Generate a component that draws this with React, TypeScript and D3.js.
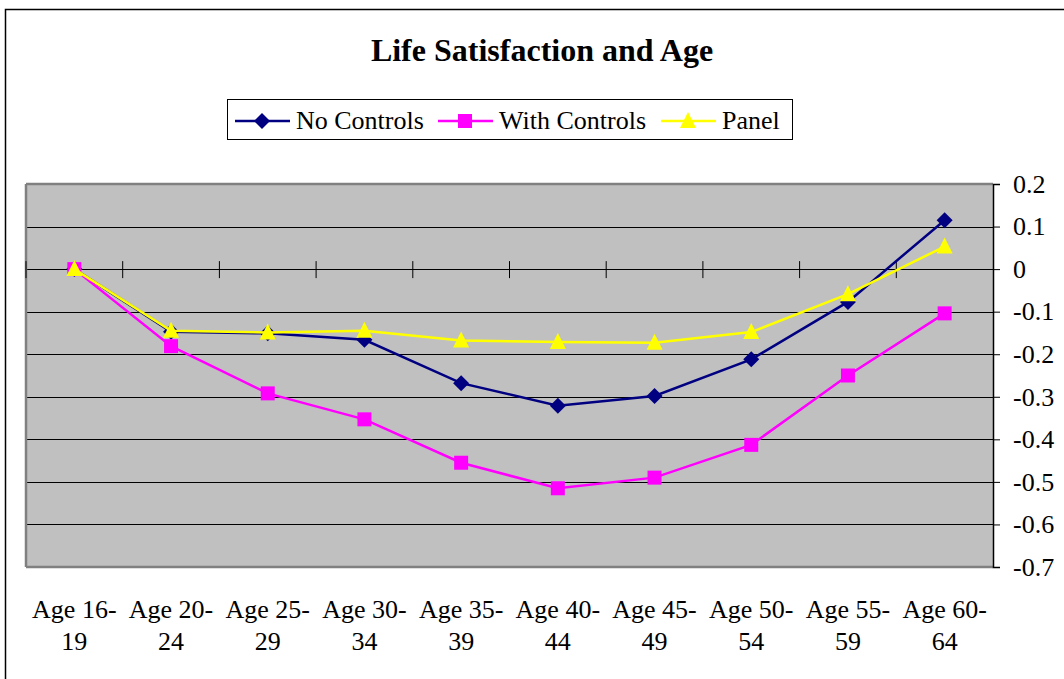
import React, { useEffect, useRef } from "react";
import * as d3 from "d3";

const categories = ["Age 16-19", "Age 20-24", "Age 25-29", "Age 30-34", "Age 35-39", "Age 40-44", "Age 45-49", "Age 50-54", "Age 55-59", "Age 60-64"];
const labelLine1 = ["Age 16-", "Age 20-", "Age 25-", "Age 30-", "Age 35-", "Age 40-", "Age 45-", "Age 50-", "Age 55-", "Age 60-"];
const labelLine2 = ["19", "24", "29", "34", "39", "44", "49", "54", "59", "64"];
const noControls = [0, -0.147, -0.151, -0.166, -0.268, -0.321, -0.298, -0.212, -0.077, 0.115];
const withControls = [0, -0.181, -0.292, -0.353, -0.455, -0.515, -0.49, -0.413, -0.25, -0.104];
const panel = [0, -0.145, -0.149, -0.145, -0.168, -0.171, -0.173, -0.148, -0.059, 0.053];
const yTicks = [0.2, 0.1, 0, -0.1, -0.2, -0.3, -0.4, -0.5, -0.6, -0.7];
const seriesNames = ["No Controls", "With Controls", "Panel"];
const seriesColors = ["#000080", "#FF00FF", "#FFFF00"];
const seriesMarkers = ["diamond", "square", "triangle"];

const W = 1064, H = 679;
const PL = 26, PR = 993, PT = 184, PB = 567;
const FONT = "'Liberation Serif', 'Times New Roman', serif";

function Marker({ type, x, y, color }: { type: string; x: number; y: number; color: string }) {
  if (type === "diamond") {
    const s = 8;
    return <path d={`M${x},${y - s}L${x + s},${y}L${x},${y + s}L${x - s},${y}Z`} fill={color} />;
  }
  if (type === "square") {
    const s = 7;
    return <rect x={x - s} y={y - s} width={2 * s} height={2 * s} fill={color} />;
  }
  const s = 8;
  return <path d={`M${x},${y - s - 1}L${x + s},${y + s - 1}L${x - s},${y + s - 1}Z`} fill={color} />;
}

export default function App() {
  const axisRef = useRef<SVGGElement>(null);
  const x = d3.scaleBand<string>().domain(categories).range([PL, PR]).padding(0);
  const y = d3.scaleLinear().domain([-0.7, 0.2]).range([PB, PT]);
  const cx = (c: string) => (x(c) as number) + x.bandwidth() / 2;
  const allSeries = [noControls, withControls, panel];
  const line = d3.line<number>().x((_, i) => cx(categories[i])).y((v) => y(v));

  useEffect(() => {
    if (!axisRef.current) return;
    const g = d3.select(axisRef.current);
    g.selectAll("*").remove();
    const axis = d3.axisRight(y).tickValues(yTicks).tickSize(7).tickPadding(13).tickFormat((d) => {
      const v = +d;
      return v === 0 ? "0" : d3.format(".1f")(v).replace("−", "-");
    });
    g.call(axis as any);
    g.select(".domain").attr("stroke", "#000").attr("stroke-width", 1.5);
    g.selectAll(".tick line").attr("stroke", "#000");
    g.selectAll(".tick text").attr("font-family", FONT).attr("font-size", 26).attr("fill", "#000");
  }, []);

  const legendX = [235, 438, 661];

  return (
    <svg width={W} height={H} style={{ position: "absolute", left: 0, top: 0, background: "#fff" }}>
      <rect x={5.5} y={9.5} width={W + 20} height={H + 20} fill="#fff" stroke="#000" strokeWidth={1.5} />
      <text x={542} y={61} textAnchor="middle" fontFamily={FONT} fontWeight="bold" fontSize={32}>Life Satisfaction and Age</text>
      <rect x={227.5} y={99.5} width={565} height={40} fill="#fff" stroke="#000" strokeWidth={1} />
      {seriesNames.map((n, i) => (
        <g key={n}>
          <line x1={legendX[i]} x2={legendX[i] + 55} y1={121} y2={121} stroke={seriesColors[i]} strokeWidth={2.5} />
          <Marker type={seriesMarkers[i]} x={legendX[i] + 27} y={121} color={seriesColors[i]} />
          <text x={legendX[i] + 61} y={129} fontFamily={FONT} fontSize={26}>{n}</text>
        </g>
      ))}
      <rect x={PL} y={PT} width={PR - PL} height={PB - PT} fill="#C0C0C0" />
      {yTicks.filter((t) => t !== 0.2 && t !== -0.7).map((t) => (
        <line key={t} x1={PL} x2={PR} y1={Math.round(y(t)) + 0.5} y2={Math.round(y(t)) + 0.5} stroke="#000" strokeWidth={1} />
      ))}
      <line x1={PL} x2={PR} y1={PT} y2={PT} stroke="#808080" strokeWidth={2.5} />
      <line x1={PL} x2={PR} y1={PB} y2={PB} stroke="#808080" strokeWidth={2.5} />
      <line x1={PL} x2={PL} y1={PT} y2={PB} stroke="#808080" strokeWidth={2.5} />
      {categories.map((c) => (
        <line key={c} x1={x(c) as number} x2={x(c) as number} y1={y(0) - 8} y2={y(0) + 9} stroke="#000" strokeWidth={1} />
      ))}
      <g ref={axisRef} transform={`translate(${PR},0)`} />
      {allSeries.map((s, si) => (
        <g key={si}>
          <path d={line(s) as string} fill="none" stroke={seriesColors[si]} strokeWidth={2.5} />
          {s.map((v, i) => (
            <Marker key={i} type={seriesMarkers[si]} x={cx(categories[i])} y={y(v)} color={seriesColors[si]} />
          ))}
        </g>
      ))}
      {categories.map((c, i) => (
        <text key={c} textAnchor="middle" fontFamily={FONT} fontSize={26}>
          <tspan x={cx(c)} y={618}>{labelLine1[i]}</tspan>
          <tspan x={cx(c)} y={650}>{labelLine2[i]}</tspan>
        </text>
      ))}
    </svg>
  );
}
